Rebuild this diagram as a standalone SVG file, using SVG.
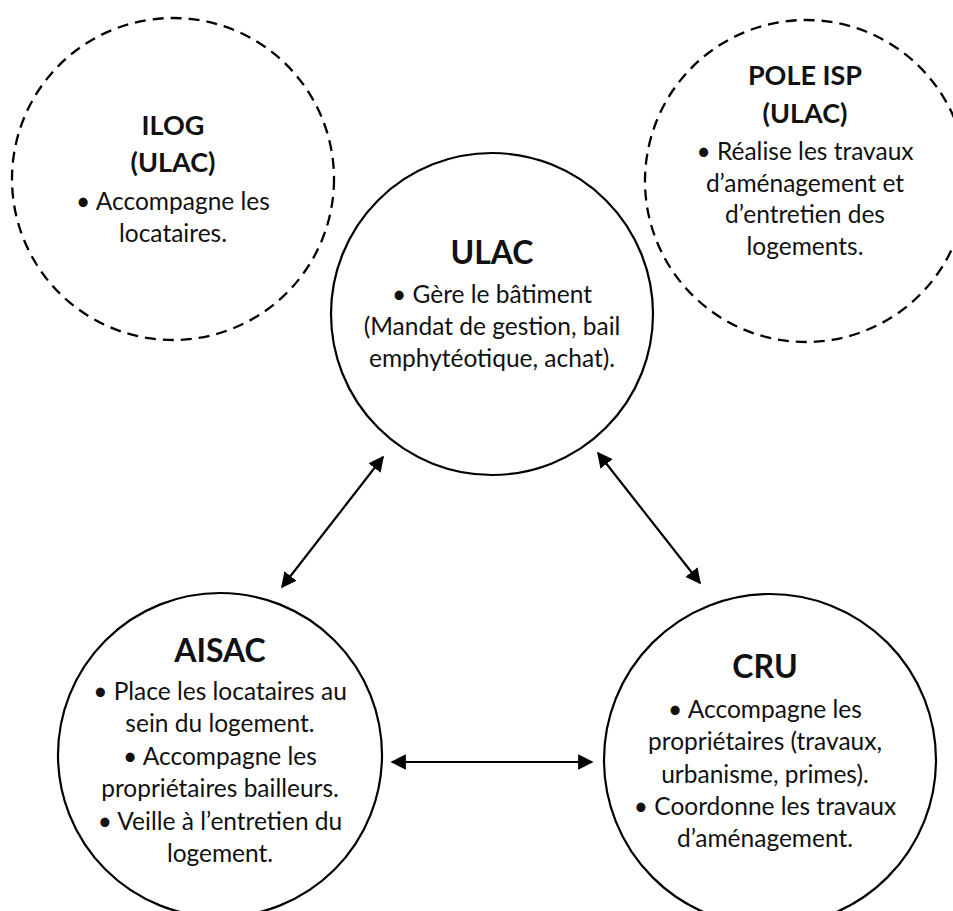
<svg xmlns="http://www.w3.org/2000/svg" width="953" height="911" viewBox="0 0 953 911">
<style>
.c{fill:#fff;stroke:#000;stroke-width:2.2}
.d{fill:none;stroke:#000;stroke-width:2.3;stroke-dasharray:11 7}
text{font-family:Lato,"Noto Sans",sans-serif;fill:#111;text-anchor:middle}
.t{font-weight:bold;font-size:32px}
.s{font-weight:bold;font-size:27px}
.b{font-size:24.5px}
.l{fill:none;stroke:#000;stroke-width:2.2}
</style>
<defs>
<marker id="ah" viewBox="0 0 10 10" refX="9" refY="5" markerWidth="7" markerHeight="7" orient="auto-start-reverse" markerUnits="strokeWidth">
<path d="M0,0 L10,5 L0,10 Z" fill="#000"/>
</marker>
</defs>
<rect width="953" height="911" fill="#fff"/>
<g id="ilog">
<circle class="d" cx="173" cy="179" r="161"/>
<text class="s" x="173" y="135">ILOG</text>
<text class="s" x="173" y="172">(ULAC)</text>
<text class="b" x="173" y="210">• Accompagne les</text>
<text class="b" x="173" y="242">locataires.</text>
</g>
<g id="pole-isp">
<circle class="d" cx="806" cy="181" r="161"/>
<text class="s" x="805" y="85">POLE ISP</text>
<text class="s" x="805" y="123">(ULAC)</text>
<text class="b" x="805" y="160">• Réalise les travaux</text>
<text class="b" x="805" y="192">d’aménagement et</text>
<text class="b" x="805" y="223">d’entretien des</text>
<text class="b" x="805" y="255">logements.</text>
</g>
<g id="ulac">
<circle class="c" cx="492" cy="314" r="161"/>
<text class="t" x="492" y="264">ULAC</text>
<text class="b" x="492" y="303">• Gère le bâtiment</text>
<text class="b" x="492" y="335">(Mandat de gestion, bail</text>
<text class="b" x="492" y="367">emphytéotique, achat).</text>
</g>
<g id="aisac">
<circle class="c" cx="220" cy="755" r="162"/>
<text class="t" x="220" y="662">AISAC</text>
<text class="b" x="220" y="700">• Place les locataires au</text>
<text class="b" x="220" y="732">sein du logement.</text>
<text class="b" x="220" y="765">• Accompagne les</text>
<text class="b" x="220" y="797">propriétaires bailleurs.</text>
<text class="b" x="220" y="830">• Veille à l’entretien du</text>
<text class="b" x="220" y="862">logement.</text>
</g>
<g id="cru">
<circle class="c" cx="770" cy="760" r="166"/>
<text class="t" x="765" y="678">CRU</text>
<text class="b" x="765" y="718">• Accompagne les</text>
<text class="b" x="765" y="750">propriétaires (travaux,</text>
<text class="b" x="765" y="783">urbanisme, primes).</text>
<text class="b" x="765" y="815">• Coordonne les travaux</text>
<text class="b" x="765" y="847">d’aménagement.</text>
</g>
<g id="connectors">
<line class="l" x1="282" y1="587" x2="383" y2="457" marker-start="url(#ah)" marker-end="url(#ah)"/>
<line class="l" x1="598" y1="453" x2="700" y2="583" marker-start="url(#ah)" marker-end="url(#ah)"/>
<line class="l" x1="392" y1="762" x2="592" y2="762" marker-start="url(#ah)" marker-end="url(#ah)"/>
</g>
</svg>
